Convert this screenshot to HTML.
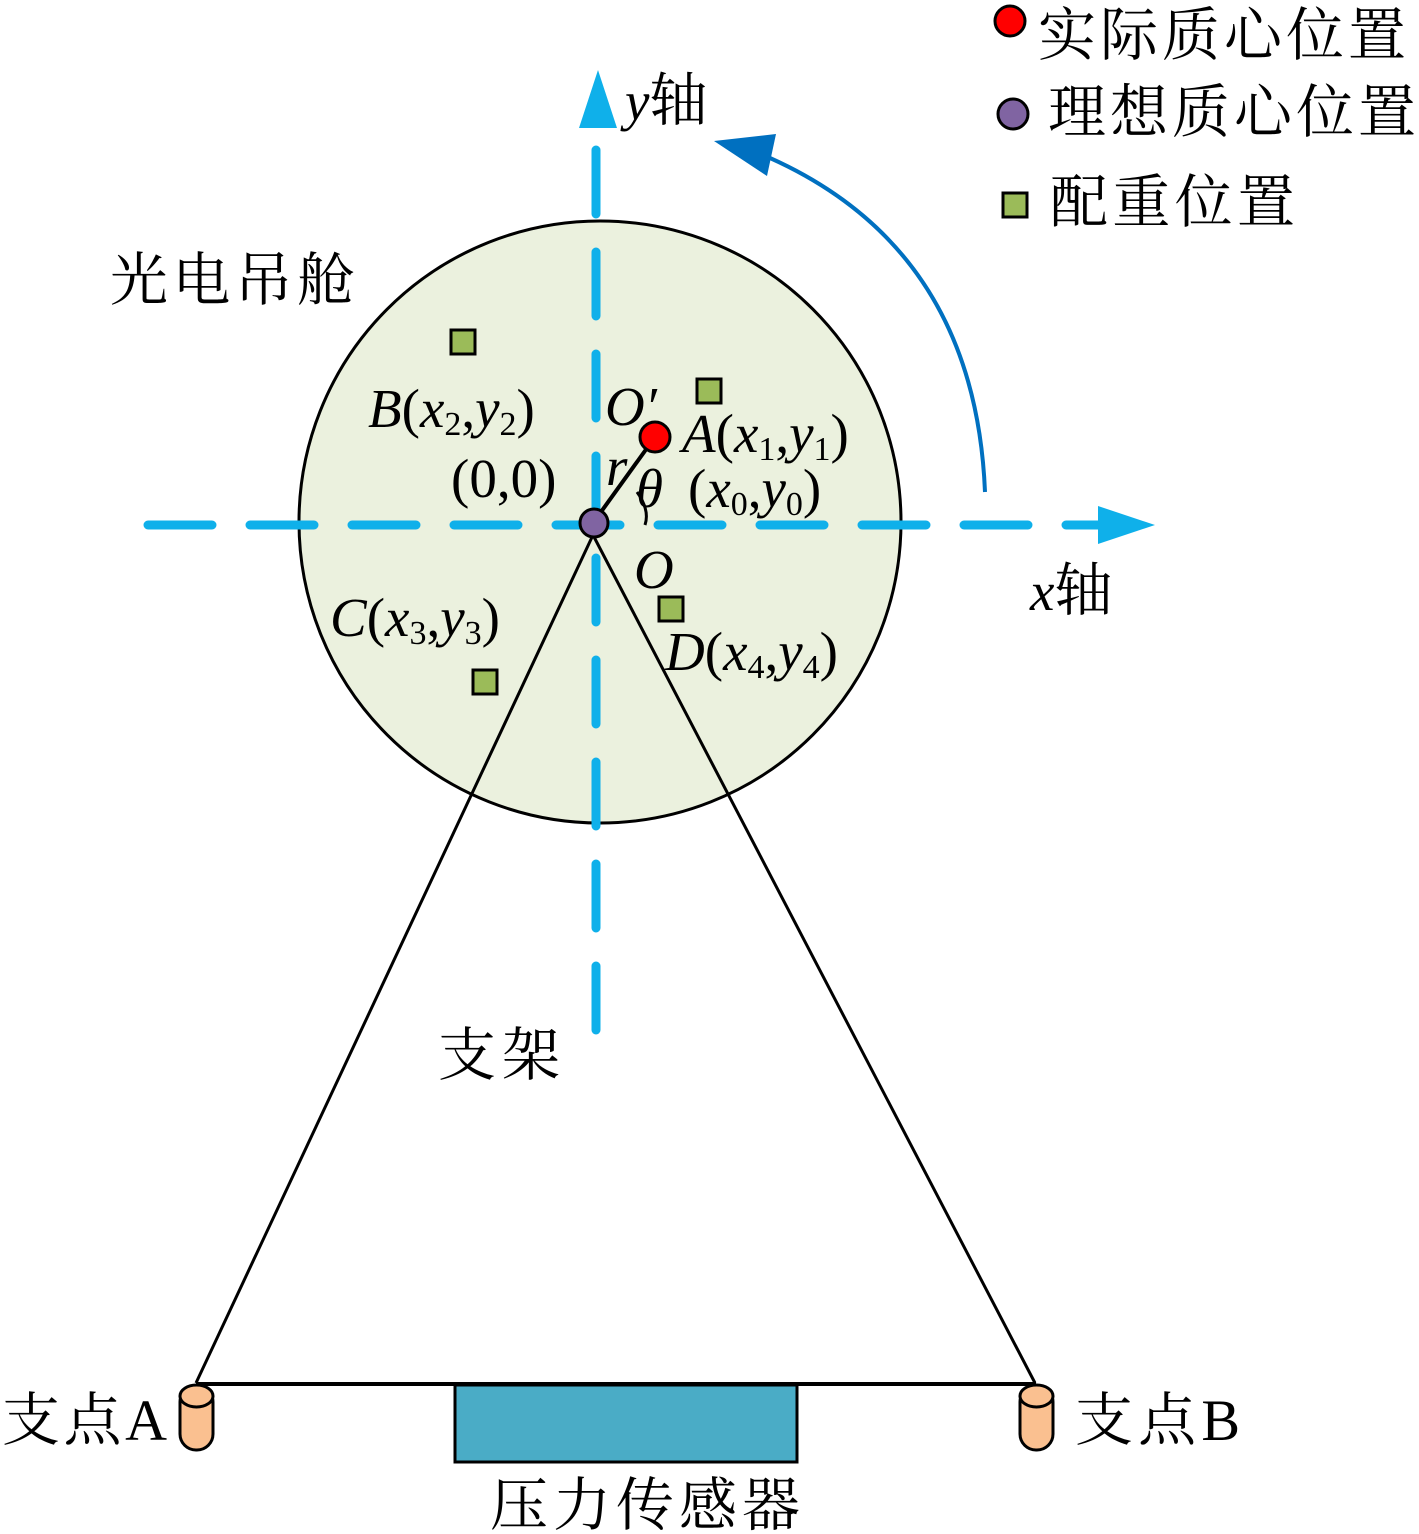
<!DOCTYPE html>
<html><head><meta charset="utf-8"><style>
html,body{margin:0;padding:0;background:#fff}
svg{display:block}
.s{font-family:"Liberation Serif","Noto Serif CJK SC",serif;font-style:italic;font-size:55px;fill:#000}
.n{font-style:normal}
.b{font-style:normal;font-size:34px}
.c{font-family:"Liberation Serif","Noto Serif CJK SC",serif;font-size:58px;fill:#000}
</style></head><body>
<svg width="1419" height="1534" viewBox="0 0 1419 1534" xmlns="http://www.w3.org/2000/svg">
<circle cx="600" cy="522" r="301" fill="#ebf1de" stroke="#000" stroke-width="3"/>
<line x1="148" y1="525" x2="1100" y2="525" stroke="#0fb0ea" stroke-width="9" stroke-linecap="round" stroke-dasharray="64 38"/>
<polygon points="1155,525 1098,506 1098,544" fill="#0fb0ea"/>
<line x1="596" y1="1030" x2="596" y2="128" stroke="#0fb0ea" stroke-width="9" stroke-linecap="round" stroke-dasharray="64 38"/>
<polygon points="598,70 579,128 617,128" fill="#0fb0ea"/>
<path d="M985,492 Q975,250 770,158" fill="none" stroke="#0070c0" stroke-width="4"/>
<polygon points="714,141 776,134 767,176" fill="#0070c0"/>
<line x1="593" y1="535" x2="196" y2="1383" stroke="#000" stroke-width="3"/>
<line x1="593" y1="535" x2="1035" y2="1383" stroke="#000" stroke-width="3"/>
<line x1="196" y1="1384" x2="1036" y2="1384" stroke="#000" stroke-width="4"/>
<rect x="455" y="1385" width="342" height="77" fill="#4aacc6" stroke="#000" stroke-width="3"/>
<g stroke="#000" stroke-width="3" fill="#fac090">
<rect x="180" y="1386" width="33" height="64" rx="16"/>
<ellipse cx="196.5" cy="1396" rx="16.5" ry="11"/>
<rect x="1020" y="1386" width="33" height="64" rx="16"/>
<ellipse cx="1036.5" cy="1396" rx="16.5" ry="11"/>
</g>
<line x1="593" y1="523" x2="655" y2="437" stroke="#000" stroke-width="4"/>
<path d="M637,492 Q650,510 645,525" fill="none" stroke="#000" stroke-width="3"/>
<circle cx="655" cy="437" r="15" fill="#f00" stroke="#000" stroke-width="3"/>
<circle cx="594" cy="523" r="14" fill="#8064a2" stroke="#000" stroke-width="3"/>
<g fill="#9bbb59" stroke="#000" stroke-width="3">
<rect x="451" y="330" width="24" height="24"/>
<rect x="697" y="379" width="24" height="24"/>
<rect x="659" y="597" width="24" height="24"/>
<rect x="473" y="670" width="24" height="24"/>
<rect x="1003" y="193" width="24" height="24"/>
</g>
<circle cx="1010" cy="21" r="15" fill="#f00" stroke="#000" stroke-width="3"/>
<circle cx="1013" cy="114" r="15" fill="#8064a2" stroke="#000" stroke-width="3"/>
<text class="c" x="1038" y="55" font-size="62" textLength="368">实际质心位置</text>
<text class="c" x="1048" y="132" font-size="62" textLength="368">理想质心位置</text>
<text class="c" x="1050" y="222" font-size="62" textLength="245">配重位置</text>
<text class="c" x="110" y="300" textLength="245">光电吊舱</text>
<text class="c" x="438" y="1075" textLength="122">支架</text>
<text class="c" x="2" y="1440" textLength="165">支点A</text>
<text class="c" x="1075" y="1440" textLength="165">支点B</text>
<text class="c" x="490" y="1525" textLength="310">压力传感器</text>
<text class="s" x="625" y="120">y<tspan class="n" font-size="58">轴</tspan></text>
<text class="s" x="1030" y="610">x<tspan class="n" font-size="58">轴</tspan></text>
<text class="s" x="368" y="427">B<tspan class="n">(</tspan>x<tspan class="b" dy="8">2</tspan><tspan class="n" dy="-8">,</tspan>y<tspan class="b" dy="8">2</tspan><tspan class="n" dy="-8">)</tspan></text>
<text class="s" x="605" y="425">O′</text>
<text class="s" x="682" y="452">A<tspan class="n">(</tspan>x<tspan class="b" dy="8">1</tspan><tspan class="n" dy="-8">,</tspan>y<tspan class="b" dy="8">1</tspan><tspan class="n" dy="-8">)</tspan></text>
<text class="s" x="451" y="497" style="font-style:normal">(0,0)</text>
<text class="s" x="606" y="485">r</text>
<text class="s" x="636" y="507">θ</text>
<text class="s" x="688" y="507"><tspan class="n">(</tspan>x<tspan class="b" dy="8">0</tspan><tspan class="n" dy="-8">,</tspan>y<tspan class="b" dy="8">0</tspan><tspan class="n" dy="-8">)</tspan></text>
<text class="s" x="634" y="588">O</text>
<text class="s" x="330" y="636">C<tspan class="n">(</tspan>x<tspan class="b" dy="8">3</tspan><tspan class="n" dy="-8">,</tspan>y<tspan class="b" dy="8">3</tspan><tspan class="n" dy="-8">)</tspan></text>
<text class="s" x="665" y="670">D<tspan class="n">(</tspan>x<tspan class="b" dy="8">4</tspan><tspan class="n" dy="-8">,</tspan>y<tspan class="b" dy="8">4</tspan><tspan class="n" dy="-8">)</tspan></text>
</svg>
</body></html>
